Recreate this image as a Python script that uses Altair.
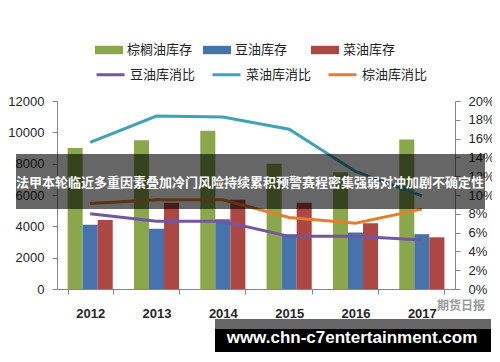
import altair as alt
import pandas as pd

years = ["2012", "2013", "2014", "2015", "2016", "2017"]

bar_series = ["棕榈油库存", "豆油库存", "菜油库存"]
palm_stock = [9000, 9500, 10100, 8000, 7450, 9550]
soy_stock = [4100, 3850, 4450, 3500, 3600, 3500]
rape_stock = [4400, 5500, 5700, 5500, 4200, 3300]
bar_colors = ["#8BA74B", "#4673AB", "#AC4744"]

line_series = ["豆油库消比", "菜油库消比", "棕油库消比"]
soy_ratio = [0.080, 0.072, 0.072, 0.056, 0.056, 0.052]
rape_ratio = [0.156, 0.184, 0.183, 0.170, 0.125, 0.099]
palm_ratio = [0.091, 0.095, 0.095, 0.076, 0.070, 0.085]
line_colors = ["#7356A0", "#3FA1BA", "#E37E2F"]

left_ticks = [0, 2000, 4000, 6000, 8000, 10000, 12000]
right_ticks = [0, 0.02, 0.04, 0.06, 0.08, 0.10, 0.12, 0.14, 0.16, 0.18, 0.20]

banner_text = "法甲本轮临近多重因素叠加冷门风险持续累积预警赛程密集强弱对冲加剧不确定性"
watermark_text = "www.chn-c7entertainment.com"
logo_text = "期货日报"

bars_df = pd.DataFrame({
    "year": years * 3,
    "series": [bar_series[0]] * 6 + [bar_series[1]] * 6 + [bar_series[2]] * 6,
    "value": palm_stock + soy_stock + rape_stock,
})
lines_df = pd.DataFrame({
    "year": years * 3,
    "series": [line_series[0]] * 6 + [line_series[1]] * 6 + [line_series[2]] * 6,
    "ratio": soy_ratio + rape_ratio + palm_ratio,
})
one = pd.DataFrame({"k": [0]})

AX = "#868686"
LBL = "#262626"

x_enc = alt.X(
    "year:N",
    sort=years,
    scale=alt.Scale(paddingInner=0.32, paddingOuter=0.16),
    axis=alt.Axis(title=None, labelAngle=0, tickBand="extent", tickSize=5,
                  labelPadding=13, labelFontWeight="bold", grid=False),
)

bars = alt.Chart(bars_df).mark_bar().encode(
    x=x_enc,
    xOffset=alt.XOffset("series:N", sort=bar_series,
                        scale=alt.Scale(paddingInner=0, paddingOuter=0)),
    y=alt.Y("value:Q", scale=alt.Scale(domain=[0, 12000]),
            axis=alt.Axis(title=None, values=left_ticks, format="d", tickSize=5,
                          labelPadding=8, grid=False)),
    fill=alt.Fill("series:N", sort=bar_series,
                  scale=alt.Scale(domain=bar_series, range=bar_colors),
                  legend=alt.Legend(title=None, orient="none", legendX=38, legendY=-65,
                                    direction="horizontal", columns=3, gridAlign="all",
                                    symbolType="M-1,-0.3H1V0.3H-1Z", symbolSize=784,
                                    symbolStrokeWidth=0, symbolOpacity=1,
                                    labelOffset=4, columnPadding=10)),
)

lines = alt.Chart(lines_df).mark_line(strokeWidth=3).encode(
    x=x_enc,
    y=alt.Y("ratio:Q", scale=alt.Scale(domain=[0, 0.2]),
            axis=alt.Axis(title=None, orient="right", values=right_ticks, format=".0%",
                          tickSize=5, labelPadding=8, grid=False)),
    stroke=alt.Stroke("series:N", sort=line_series,
                      scale=alt.Scale(domain=line_series, range=line_colors),
                      legend=alt.Legend(title=None, orient="none", legendX=38, legendY=-42,
                                        direction="horizontal", columns=3, gridAlign="all",
                                        symbolType="stroke", symbolSize=784,
                                        symbolStrokeWidth=3,
                                        labelOffset=4, columnPadding=10)),
)

banner_rect = alt.Chart(one).mark_rect(color="black", opacity=0.6).encode(
    x=alt.value(-41), x2=alt.value(428), y=alt.value(53), y2=alt.value(108)
)
banner_txt = alt.Chart(one).mark_text(
    text=banner_text, color="white", font="Noto Sans CJK SC", fontSize=13,
    fontWeight="bold", align="center", baseline="middle"
).encode(x=alt.value(193), y=alt.value(82))

wm_strip = alt.Chart(one).mark_rect(color="#666666").encode(
    x=alt.value(158), x2=alt.value(434), y=alt.value(218), y2=alt.value(228)
)
wm_box = alt.Chart(one).mark_rect(color="black").encode(
    x=alt.value(158), x2=alt.value(434), y=alt.value(228), y2=alt.value(251)
)
wm_txt = alt.Chart(one).mark_text(
    text=watermark_text, color="white", font="Liberation Sans", fontSize=17,
    fontWeight="bold", align="center", baseline="middle"
).encode(x=alt.value(295), y=alt.value(237))

logo = alt.Chart(one).mark_text(
    text=logo_text, color="#9a9a9a", font="Noto Sans CJK SC", fontSize=12,
    fontWeight="bold", align="center", baseline="middle"
).encode(x=alt.value(404), y=alt.value(205))

chart = alt.layer(
    bars, lines, banner_rect, banner_txt, wm_strip, wm_box, wm_txt, logo
).resolve_scale(
    y="independent", fill="independent", stroke="independent"
).properties(
    width=398, height=188,
    padding={"left": 49, "top": 93, "right": 37, "bottom": 65},
    autosize=alt.AutoSizeParams(type="none"),
).configure_view(
    stroke=None
).configure_axis(
    domainColor=AX, tickColor=AX, labelColor=LBL, labelFont="Liberation Sans",
    labelFontSize=13
).configure_legend(
    labelFont="Noto Sans CJK SC", labelFontSize=13, labelColor="#222222"
)

chart.save("out.html", embed_options={"renderer": "svg", "actions": False})
